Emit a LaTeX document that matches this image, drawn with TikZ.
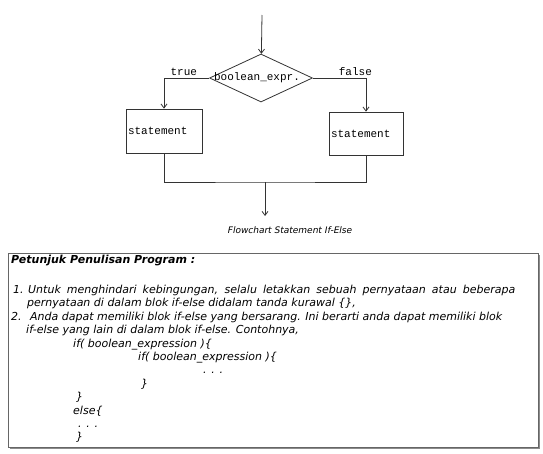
\documentclass[tikz,border=0pt]{standalone}
\usepackage{fontspec}
\newfontfamily\chartfont{Liberation Mono}
\newfontfamily\notefont{DejaVu Sans}
\usetikzlibrary{shapes.geometric,arrows.meta}

\begin{document}
\begin{tikzpicture}[x=1pt,y=-1pt,
  flow/.style={draw=black!80,line width=0.8pt},
  tip/.style={-{Straight Barb[length=4pt,width=6pt]}},
  cond/.style={flow,diamond,inner sep=0pt,minimum width=103pt,minimum height=48pt,font=\chartfont\fontsize{11}{13}\selectfont},
  stmt/.style={flow,rectangle,minimum height=44pt,inner xsep=2pt,align=left,font=\chartfont\fontsize{11}{13}\selectfont},
  lbl/.style={inner sep=1.5pt,font=\chartfont\fontsize{11}{13}\selectfont},
  note/.style={anchor=base west,inner sep=0pt,font=\notefont\itshape\fontsize{11}{13}\selectfont}]
\useasboundingbox (0,0) rectangle (543,453);
% flowchart
\coordinate (start) at (262,15);
\node[cond] (test) at (261,78) {\makebox[0pt]{\hspace*{-8pt}boolean\_expr.}};
\node[stmt,text width=72pt] (yes) at (164,131) {statement};
\node[stmt,text width=70pt,minimum height=43pt] (no) at (366,133.5) {statement};
\coordinate (join) at (265,182);
\coordinate (end) at (265,216);
\draw[flow,tip] (start) -- (test);
\draw[flow,tip] (test.west) -| node[lbl,pos=0.28,above] {true} (yes.north);
\draw[flow,tip] (test.east) -| node[lbl,pos=0.4,above] {false} (no.north);
\draw[flow] (yes.south) |- (join) -| (no.south);
\draw[flow,tip] (join) -- (end);
\node[font=\notefont\itshape\fontsize{9}{11}\selectfont] (caption) at (290,230) {Flowchart Statement If-Else};
% petunjuk box
\fill[black!45] (10,255) rectangle (540,449);
\draw[draw=black!60,fill=white,line width=0.8pt] (8,253) rectangle (538,447);
\node[note,font=\notefont\bfseries\itshape\fontsize{11}{13}\selectfont] (head) at (11,263.5) {Petunjuk Penulisan Program :};
\node[note] (l1) at (13,293.5) {\makebox[502pt][s]{\makebox[15pt][l]{1.}Untuk menghindari kebingungan, selalu letakkan sebuah pernyataan atau beberapa}};
\node[note] (l2) at (27,306.9) {pernyataan di dalam blok if-else didalam tanda kurawal \{\},};
\node[note] (l3) at (11,320.3) {\makebox[19pt][l]{2.}Anda dapat memiliki blok if-else yang bersarang. Ini berarti anda dapat memiliki blok};
\node[note] (l4) at (26,333.7) {if-else yang lain di dalam blok if-else. Contohnya,};
\node[note] (c1) at (73,347.1) {if( boolean\_expression )\{};
\node[note] (c2) at (138,360.5) {if( boolean\_expression )\{};
\node[note] (c3) at (203,373.9) {. . .};
\node[note] (c4) at (141,387.3) {\}};
\node[note] (c5) at (76,400.7) {\}};
\node[note] (c6) at (73,414.1) {else\{};
\node[note] (c7) at (78,427.5) {. . .};
\node[note] (c8) at (76,440.9) {\}};
\end{tikzpicture}
\end{document}
